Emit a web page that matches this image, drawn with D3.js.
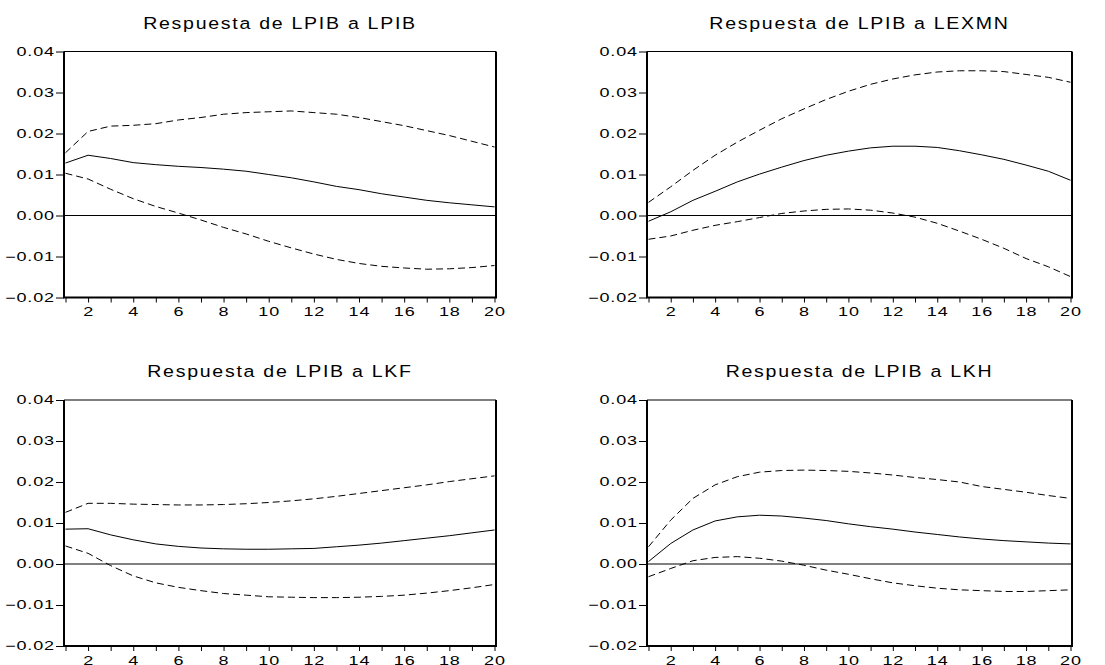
<!DOCTYPE html>
<html>
<head>
<meta charset="utf-8">
<script src="https://cdn.jsdelivr.net/npm/d3@7"></script>
<style>
  body { margin: 0; background: #fff; }
  svg { display: block; font-family: "Liberation Sans", Arial, sans-serif; }
</style>
</head>
<body>
<svg id="chart" width="1105" height="665"></svg>
<script>
// periods 1..20 and axis ticks
const periods = [1, 2, 3, 4, 5, 6, 7, 8, 9, 10, 11, 12, 13, 14, 15, 16, 17, 18, 19, 20];
const yTicks = [-0.02, -0.01, 0.00, 0.01, 0.02, 0.03, 0.04];
const titles = ["Respuesta de LPIB a LPIB", "Respuesta de LPIB a LEXMN", "Respuesta de LPIB a LKF", "Respuesta de LPIB a LKH"];

// LPIB -> LPIB
const lpibResp  = [0.0128, 0.0147, 0.0139, 0.0129, 0.0124, 0.0120, 0.0117, 0.0113, 0.0108, 0.0100, 0.0092, 0.0082, 0.0071, 0.0063, 0.0053, 0.0045, 0.0037, 0.0031, 0.0026, 0.0021];
const lpibUpper = [0.0153, 0.0205, 0.0218, 0.0220, 0.0224, 0.0233, 0.0239, 0.0247, 0.0251, 0.0253, 0.0255, 0.0251, 0.0247, 0.0239, 0.0229, 0.0219, 0.0207, 0.0195, 0.0181, 0.0167];
const lpibLower = [0.0103, 0.0089, 0.0064, 0.0041, 0.0022, 0.0006, -0.0011, -0.0029, -0.0045, -0.0063, -0.0079, -0.0094, -0.0107, -0.0117, -0.0124, -0.0128, -0.0131, -0.0130, -0.0127, -0.0122];

// LPIB -> LEXMN
const lexmnResp  = [-0.0014, 0.0009, 0.0037, 0.0059, 0.0082, 0.0101, 0.0118, 0.0134, 0.0147, 0.0157, 0.0165, 0.0169, 0.0169, 0.0166, 0.0158, 0.0148, 0.0137, 0.0123, 0.0108, 0.0086];
const lexmnUpper = [0.0032, 0.0070, 0.0110, 0.0147, 0.0179, 0.0208, 0.0236, 0.0260, 0.0283, 0.0303, 0.0320, 0.0333, 0.0343, 0.0350, 0.0353, 0.0353, 0.0351, 0.0344, 0.0337, 0.0325];
const lexmnLower = [-0.0058, -0.0050, -0.0036, -0.0024, -0.0015, -0.0005, 0.0005, 0.0011, 0.0015, 0.0016, 0.0013, 0.0006, -0.0004, -0.0019, -0.0038, -0.0058, -0.0080, -0.0105, -0.0125, -0.0149];

// LPIB -> LKF
const lkfResp  = [0.0085, 0.0086, 0.0071, 0.0059, 0.0049, 0.0043, 0.0039, 0.0037, 0.0036, 0.0036, 0.0037, 0.0038, 0.0042, 0.0046, 0.0051, 0.0057, 0.0063, 0.0069, 0.0076, 0.0083];
const lkfUpper = [0.0126, 0.0148, 0.0148, 0.0146, 0.0145, 0.0144, 0.0144, 0.0145, 0.0147, 0.0150, 0.0154, 0.0159, 0.0165, 0.0172, 0.0179, 0.0186, 0.0193, 0.0201, 0.0208, 0.0215];
const lkfLower = [0.0044, 0.0026, -0.0004, -0.0029, -0.0046, -0.0057, -0.0065, -0.0072, -0.0076, -0.0080, -0.0081, -0.0082, -0.0082, -0.0081, -0.0079, -0.0076, -0.0071, -0.0065, -0.0058, -0.0050];

// LPIB -> LKH
const lkhResp  = [0.0006, 0.0050, 0.0083, 0.0105, 0.0115, 0.0119, 0.0117, 0.0112, 0.0106, 0.0098, 0.0091, 0.0085, 0.0078, 0.0072, 0.0066, 0.0061, 0.0057, 0.0054, 0.0051, 0.0049];
const lkhUpper = [0.0042, 0.0107, 0.0160, 0.0193, 0.0213, 0.0224, 0.0228, 0.0229, 0.0228, 0.0226, 0.0222, 0.0217, 0.0211, 0.0206, 0.0200, 0.0189, 0.0182, 0.0175, 0.0167, 0.0160];
const lkhLower = [-0.0031, -0.0011, 0.0008, 0.0016, 0.0018, 0.0014, 0.0007, -0.0003, -0.0015, -0.0025, -0.0036, -0.0046, -0.0053, -0.0059, -0.0063, -0.0065, -0.0067, -0.0067, -0.0065, -0.0063];

const svg = d3.select("#chart");

const panels = [
    { title: titles[0], resp: lpibResp,  upper: lpibUpper,  lower: lpibLower,  left: 64,  right: 496,  top: 51.5, bottom: 297.5 },
    { title: titles[1], resp: lexmnResp, upper: lexmnUpper, lower: lexmnLower, left: 647, right: 1072, top: 51.5, bottom: 297.5 },
    { title: titles[2], resp: lkfResp,   upper: lkfUpper,   lower: lkfLower,   left: 64,  right: 496,  top: 400, bottom: 646 },
    { title: titles[3], resp: lkhResp,   upper: lkhUpper,   lower: lkhLower,   left: 647, right: 1072, top: 400, bottom: 646 }
];

const labelScale = 1.5; // the source chart has horizontally stretched labels

function drawPanel(p) {
    const g = svg.append("g");
    const x = d3.scaleLinear().domain([1, 20]).range([p.left + 1.5, p.right - 1.5]);
    const y = d3.scaleLinear().domain([-0.02, 0.04]).range([p.bottom, p.top]);

    // title
    g.append("text")
        .attr("transform", `translate(${(p.left + p.right) / 2},${p.top - 23}) scale(1.15,1)`)
        .attr("text-anchor", "middle")
        .style("font-size", "17px")
        .style("letter-spacing", "1.5px")
        .text(p.title);

    // y axis
    const yAxis = g.append("g")
        .attr("transform", `translate(${p.left},0)`)
        .call(d3.axisLeft(y).tickValues(yTicks).tickSize(8).tickPadding(1).tickFormat(d3.format(".2f")));
    yAxis.select(".domain").remove();
    yAxis.selectAll(".tick line").attr("stroke", "#000");
    yAxis.selectAll(".tick text")
        .attr("fill", "#000")
        .attr("x", -9 / labelScale)
        .attr("transform", `scale(${labelScale},1)`)
        .style("font-size", "12px")
        .style("letter-spacing", "0.6px")
        .style("font-family", "'Liberation Sans', Arial, sans-serif");

    // x axis
    const xAxis = g.append("g")
        .attr("transform", `translate(0,${p.bottom})`)
        .call(d3.axisBottom(x).tickValues(periods).tickSize(5).tickPadding(5).tickFormat(d => d % 2 === 0 ? d : ""));
    xAxis.select(".domain").remove();
    xAxis.selectAll(".tick line").attr("stroke", "#000");
    xAxis.selectAll(".tick text")
        .attr("fill", "#000")
        .attr("transform", `scale(${labelScale},1)`)
        .style("font-size", "12px")
        .style("letter-spacing", "0.6px")
        .style("font-family", "'Liberation Sans', Arial, sans-serif");

    // zero line
    g.append("line")
        .attr("x1", p.left).attr("x2", p.right)
        .attr("y1", y(0)).attr("y2", y(0))
        .attr("stroke", "#000").attr("stroke-width", 1);

    const line = d3.line()
        .x((d, i) => x(periods[i]))
        .y(d => y(d));

    g.append("path")
        .attr("d", line(p.upper))
        .attr("fill", "none").attr("stroke", "#000").attr("stroke-width", 1)
        .attr("stroke-dasharray", "7,4");
    g.append("path")
        .attr("d", line(p.lower))
        .attr("fill", "none").attr("stroke", "#000").attr("stroke-width", 1)
        .attr("stroke-dasharray", "7,4");
    g.append("path")
        .attr("d", line(p.resp))
        .attr("fill", "none").attr("stroke", "#000").attr("stroke-width", 1);

    // frame: thin top, heavier left/right/bottom
    g.append("line")
        .attr("x1", p.left).attr("x2", p.right)
        .attr("y1", p.top).attr("y2", p.top)
        .attr("stroke", "#000").attr("stroke-width", 1.2);
    g.append("path")
        .attr("d", `M${p.left},${p.top}V${p.bottom}H${p.right}V${p.top}`)
        .attr("fill", "none").attr("stroke", "#000").attr("stroke-width", 2);
}

panels.forEach(drawPanel);
</script>
</body>
</html>
